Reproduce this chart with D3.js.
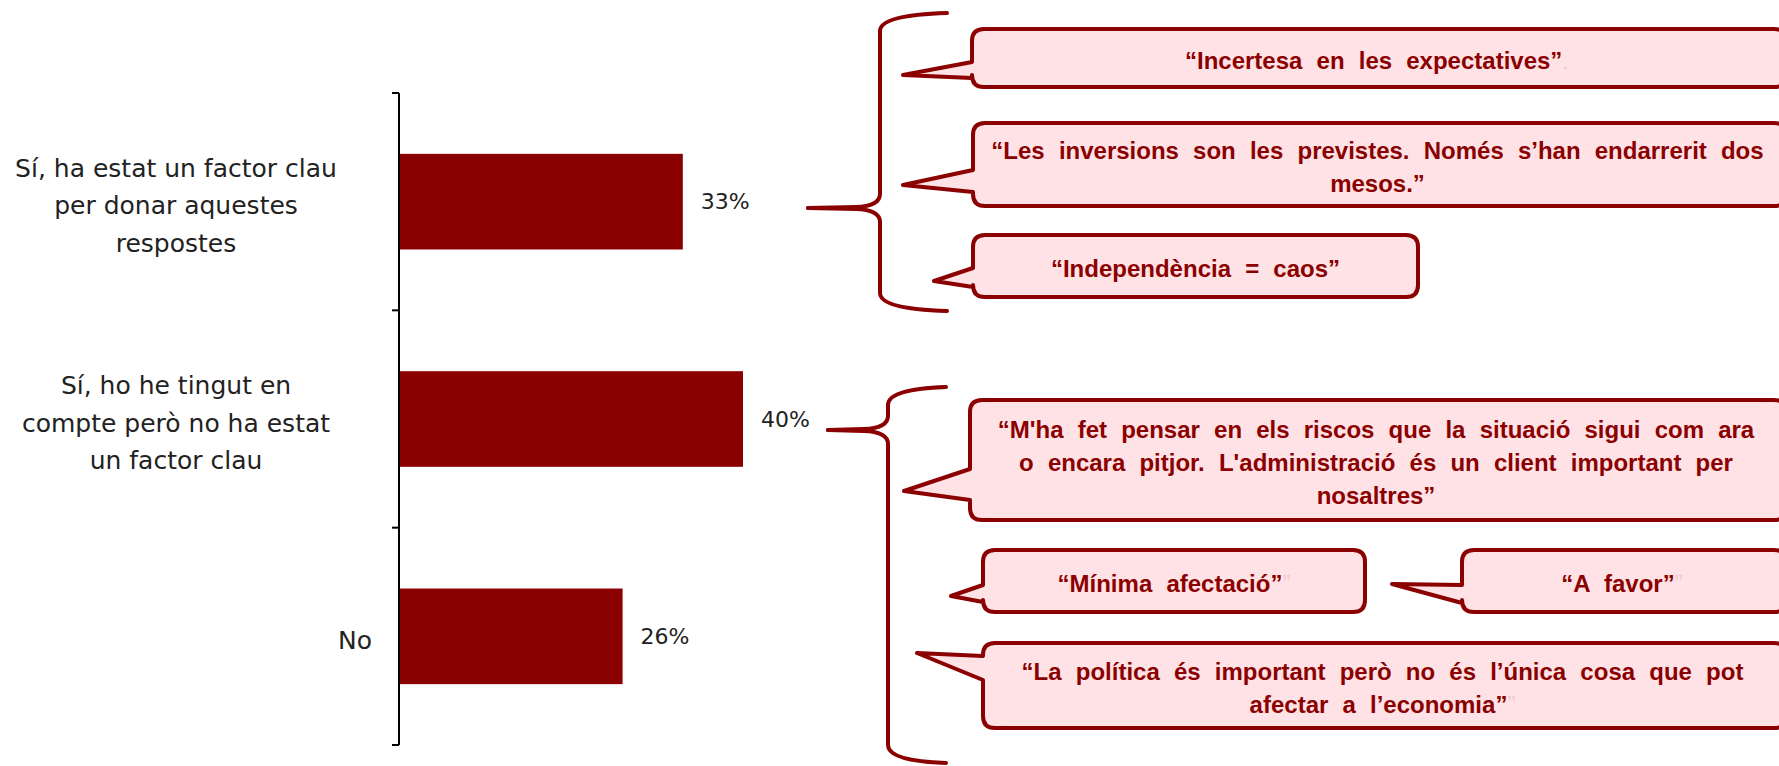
<!DOCTYPE html>
<html>
<head>
<meta charset="utf-8">
<script src="https://cdn.jsdelivr.net/npm/d3@7"></script>
<style>
  html, body { margin: 0; padding: 0; background: #fff; overflow: hidden; }
</style>
</head>
<body>
<svg id="chart"></svg>
<script>
// dades del gràfic
let categories = [
  ["Sí, ha estat un factor clau", "per donar aquestes", "respostes"],
  ["Sí, ho he tingut en", "compte però no ha estat", "un factor clau"],
  ["No"]
];
let values = [0.33, 0.40, 0.26];
let valueLabels = ["33%", "40%", "26%"];

// cites (text de cada bafarada)
let quotes = [
  ["“Incertesa en les expectatives”"],
  ["“Les inversions son les previstes. Només s’han endarrerit dos", "mesos.”"],
  ["“Independència = caos”"],
  ["“M'ha fet pensar en els riscos que la situació sigui com ara", "o encara pitjor. L'administració és un client important per", "nosaltres”"],
  ["“Mínima afectació”"],
  ["“A favor”"],
  ["“La política és important però no és l’única cosa que pot", "afectar a l’economia”"]
];
let quoteTails = [".", "", "", "", "”", "”", "”"];

// posició de cada bafarada
let bubbles = [
  {x0: 972, x1: 1786, y0: 29, y1: 87, a1: 62, a2: 78, tx: 903, ty: 75},
  {x0: 973, x1: 1786, y0: 123, y1: 206, a1: 170, a2: 192, tx: 903, ty: 185},
  {x0: 973, x1: 1418, y0: 235, y1: 297, a1: 268, a2: 287, tx: 934, ty: 281},
  {x0: 970, x1: 1786, y0: 400, y1: 520, a1: 469, a2: 500, tx: 904, ty: 491},
  {x0: 983, x1: 1365, y0: 550, y1: 612, a1: 585, a2: 602, tx: 951, ty: 596},
  {x0: 1462, x1: 1786, y0: 550, y1: 612, a1: 585, a2: 603, tx: 1392, ty: 584},
  {x0: 983, x1: 1786, y0: 643, y1: 728, a1: 656, a2: 680, tx: 917, ty: 653}
];

// claus que agrupen les cites
let braces = [
  {x: 880, top: 13, bottom: 311, cusp: 208, tip: 808, end: 947},
  {x: 888, top: 387, bottom: 763, cusp: 430, tip: 828, end: 946}
];

let width = 1779;
let height = 766;
let red = "#8b0000";
let pink = "#ffe2e5";

let svg = d3.select("#chart")
  .attr("width", width)
  .attr("height", height);

// escales
let y = d3.scaleBand()
  .domain(d3.range(categories.length))
  .range([93, 745])
  .paddingInner(0.56)
  .paddingOuter(0.28);

let x = d3.scaleLinear()
  .domain([0, 1])
  .range([399, 1259]);

// eix vertical amb marques entre categories
let axisG = svg.append("g");
axisG.append("line")
  .attr("x1", x(0)).attr("x2", x(0))
  .attr("y1", 93).attr("y2", 745)
  .attr("stroke", "#000")
  .attr("stroke-width", 2);

let step = y.step();
axisG.selectAll("line.tick")
  .data(d3.range(categories.length + 1))
  .join("line")
  .attr("class", "tick")
  .attr("x1", x(0) - 7).attr("x2", x(0))
  .attr("y1", i => 93 + i * step)
  .attr("y2", i => 93 + i * step)
  .attr("stroke", "#000")
  .attr("stroke-width", 2);

// barres
svg.selectAll("rect.bar")
  .data(values)
  .join("rect")
  .attr("class", "bar")
  .attr("x", x(0) + 1)
  .attr("y", (d, i) => y(i))
  .attr("width", d => x(d) - x(0) - 1)
  .attr("height", y.bandwidth())
  .attr("fill", red);

// etiquetes de valor
svg.selectAll("text.val")
  .data(values)
  .join("text")
  .attr("class", "val")
  .attr("x", d => x(d) + 18)
  .attr("y", (d, i) => y(i) + y.bandwidth() / 2)
  .attr("dy", "0.35em")
  .style("font-family", "'DejaVu Sans', sans-serif")
  .style("font-size", "22px")
  .style("fill", "#222")
  .text((d, i) => valueLabels[i]);

// etiquetes de categoria
let lineH = 37.5;
categories.forEach((lines, i) => {
  let cy = y(i) + y.bandwidth() / 2 + 4;
  let single = lines.length === 1;
  let t = svg.append("text")
    .attr("text-anchor", single ? "end" : "middle")
    .style("font-family", "'DejaVu Sans', sans-serif")
    .style("font-size", "25px")
    .style("fill", "#222");
  lines.forEach((ln, j) => {
    t.append("tspan")
      .attr("x", single ? x(0) - 27 : 176)
      .attr("y", cy + (j - (lines.length - 1) / 2) * lineH)
      .attr("dy", "0.35em")
      .text(ln);
  });
});

// claus
braces.forEach(b => {
  let g = svg.append("g")
    .attr("fill", "none")
    .attr("stroke", red)
    .attr("stroke-width", 4)
    .attr("stroke-linecap", "round");
  g.append("path")
    .attr("d", `M${b.end},${b.top} Q${b.x},${b.top + 2} ${b.x},${b.top + 18}
      V${b.cusp - 14} Q${b.x},${b.cusp - 2} ${b.x - 24},${b.cusp - 1} L${b.tip},${b.cusp}`);
  g.append("path")
    .attr("d", `M${b.tip},${b.cusp} L${b.x - 24},${b.cusp + 1} Q${b.x},${b.cusp + 2} ${b.x},${b.cusp + 14}
      V${b.bottom - 18} Q${b.x},${b.bottom - 2} ${b.end},${b.bottom}`);
});

// bafarades
let bubblePath = (b) => {
  let r = 12;
  return `M${b.x0 + r},${b.y0} H${b.x1 - r} Q${b.x1},${b.y0} ${b.x1},${b.y0 + r}
    V${b.y1 - r} Q${b.x1},${b.y1} ${b.x1 - r},${b.y1} H${b.x0 + r} Q${b.x0},${b.y1} ${b.x0},${b.y1 - r}
    V${b.a2} L${b.tx},${b.ty} L${b.x0},${b.a1} V${b.y0 + r} Q${b.x0},${b.y0} ${b.x0 + r},${b.y0} Z`;
};

let quoteH = 33;
bubbles.forEach((b, i) => {
  svg.append("path")
    .attr("d", bubblePath(b))
    .attr("fill", pink)
    .attr("stroke", red)
    .attr("stroke-width", 4)
    .attr("stroke-linejoin", "round");

  let lines = quotes[i];
  let cx = (b.x0 + Math.min(b.x1, 1782)) / 2;
  let cy = (b.y0 + b.y1) / 2 + 3;
  let t = svg.append("text")
    .attr("text-anchor", "middle")
    .style("font-family", "'Liberation Sans', Arial, sans-serif")
    .style("font-weight", "bold")
    .style("font-size", "24px")
    .style("word-spacing", "7.5px")
    .style("fill", red);
  lines.forEach((ln, j) => {
    t.append("tspan")
      .attr("x", cx)
      .attr("y", cy + (j - (lines.length - 1) / 2) * quoteH)
      .attr("dy", "0.35em")
      .text(ln);
    if (j === lines.length - 1 && quoteTails[i]) {
      t.append("tspan")
        .style("fill", "#f3c9ce")
        .style("font-weight", "normal")
        .text(quoteTails[i]);
    }
  });
});
</script>
</body>
</html>
